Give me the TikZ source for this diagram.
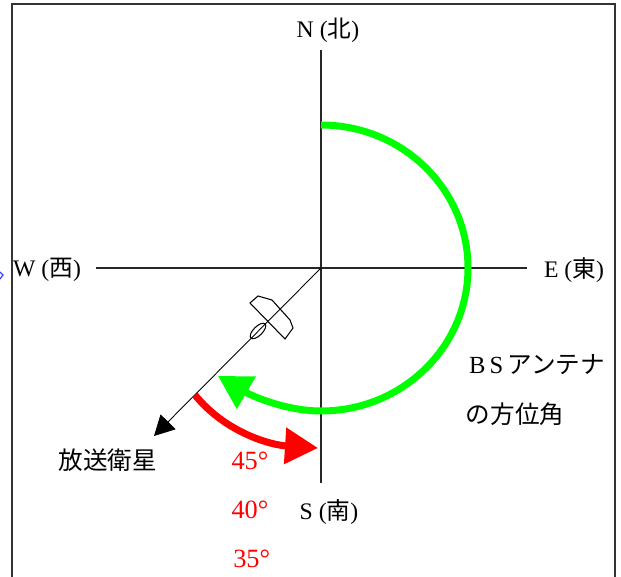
\documentclass[tikz,border=0pt]{standalone}
\usepackage{fontspec}
\setmainfont{Liberation Serif}
\newfontfamily\jpfont{Noto Sans CJK JP}
\usepackage{xcolor}
\usetikzlibrary{shapes.geometric,arrows.meta,positioning}
\definecolor{colArc}{RGB}{0,255,0}
\definecolor{colSat}{RGB}{255,0,0}
\definecolor{colMark}{RGB}{60,60,255}
\tikzset{
  dirlabel/.style = {inner sep=0pt, font=\fontsize{13.5}{15}\selectfont},
  jplabel/.style  = {inner sep=0pt, font=\fontsize{14}{16}\jpfont},
  anglabel/.style = {inner sep=0pt, text=colSat, font=\fontsize{15}{17}\selectfont},
  axisline/.style = {line width=0.6pt, draw=black!85},
  frameline/.style= {line width=1pt, draw=black!80},
  garr/.style     = {-{Triangle[length=0.66cm,width=0.72cm]}, line width=0.14cm, draw=colArc},
  rarr/.style     = {-{Triangle[length=0.66cm,width=0.70cm]}, line width=0.14cm, draw=colSat},
  barr/.style     = {-{Triangle[length=0.40cm,width=0.42cm]}, line width=0.5pt, draw=black},
}
\begin{document}
\begin{tikzpicture}[x=0.02cm, y=0.02cm]
\useasboundingbox (-321,-309) rectangle (300,268);

%% ── Frame and stray mark ──────────────────────────────────
\draw[frameline] (-309,-309) -- (-309,264) -- (294,264) -- (294,-309);
\draw[colMark, line width=0.7pt] (-321,-11) -- (-318,-7) -- (-321,-4);

%% ── Axes ──────────────────────────────────────────────────
\coordinate (centre) at (0,0);
\coordinate (north)  at (0,218);
\coordinate (south)  at (0,-215);
\coordinate (west)   at (-225,0);
\coordinate (east)   at (206,0);
\coordinate (sat)    at (-167,-168);
\draw[axisline] (north) -- (south);
\draw[axisline] (west)  -- (east);
\draw[barr] (centre) -- (sat);

%% ── Labels ────────────────────────────────────────────────
\node[dirlabel] (nlabel) at (7,238)    {N ({\jpfont 北})};
\node[dirlabel] (wlabel) at (-274,-2)  {W ({\jpfont 西})};
\node[dirlabel] (elabel) at (253,-2)   {E ({\jpfont 東})};
\node[dirlabel] (slabel) at (8,-244)   {S ({\jpfont 南})};
\node[jplabel]  (satlabel) at (-213,-192) {放送衛星};
\node[anglabel] (a45) at (-71,-193) {45°};
\node[anglabel, below=0.6cm of a45] (a40) {40°};
\node[anglabel, below=0.62cm of a40, xshift=1] (a35) {35°};
\node[jplabel]  (bslabel) at (216,-97)  {{\fontsize{14}{16}\rmfamily B\,S\,}アンテナ};
\node[jplabel]  (azlabel) at (194,-146) {の方位角};

%% ── Antenna ───────────────────────────────────────────────
\draw[line width=0.6pt] (-63,-28) -- (-71,-35) -- (-36,-71) -- (-28,-60) -- (-31,-52) -- (-49,-32) -- cycle;
\node[ellipse, draw, line width=0.6pt, rotate=45, minimum width=0.4cm,
      minimum height=0.18cm, inner sep=0pt] (dish) at (-63,-63) {};

%% ── Angle arrows ──────────────────────────────────────────
\coordinate (gstart) at (0,143);
\coordinate (gtip)   at (-103,-108);
\coordinate (rstart) at (-126,-127);
\coordinate (rtip)   at (-3,-180);
\draw[garr] (gstart) arc[start angle=90, end angle=-90, x radius=147, y radius=143]
  .. controls (-35,-143) and (-69,-128) .. (gtip);
\draw[rarr] (rstart) .. controls (-95,-165) and (-50,-177) .. (rtip);

\end{tikzpicture}
\end{document}
